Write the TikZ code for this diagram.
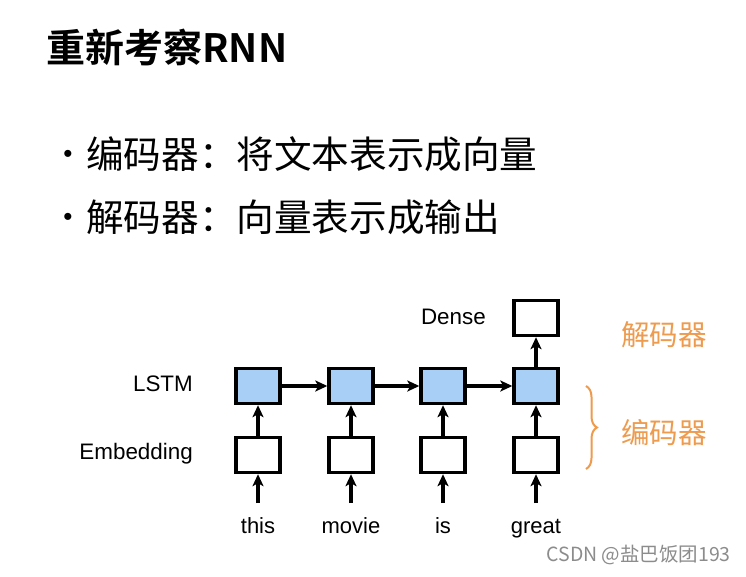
\documentclass[tikz,border=0pt]{standalone}
\usepackage{fontspec}
\setmainfont{Liberation Sans}
\newfontfamily\cjk{Noto Sans CJK SC}
\newfontfamily\cjkbold{Noto Sans CJK SC Bold}
\usetikzlibrary{arrows.meta,decorations.pathreplacing}
\definecolor{lstmblue}{HTML}{A8CFF6}
\definecolor{accent}{HTML}{EE9B4E}
\begin{document}
\begin{tikzpicture}[x=1pt,y=-1pt,
  cell/.style={draw=black,line width=3.4pt,minimum width=44pt,minimum height=35pt,inner sep=0pt},
  lstmcell/.style={cell,fill=lstmblue},
  embcell/.style={cell,fill=white},
  flow/.style={line width=3.2pt,-{Stealth[length=12pt,width=11pt,inset=3pt]}},
  layerlabel/.style={anchor=east,font=\fontsize{22.4}{26}\selectfont,inner sep=0pt},
  word/.style={font=\fontsize{22}{26}\selectfont,inner sep=0pt,anchor=base},
  cjktext/.style={font=\cjk\fontsize{37.6}{44}\selectfont,inner sep=0pt,anchor=west},
  tag/.style={font=\cjk\fontsize{28.5}{34}\selectfont,text=accent,inner sep=0pt}]
\useasboundingbox (0,0) rectangle (746,577);
\fill[white] (0,0) rectangle (746,577);

% heading and bullet points
\node[font=\cjkbold\fontsize{39}{46}\selectfont,anchor=west,inner sep=0pt] (title) at (46,47) {重新考察RNN};
\node[font=\fontsize{26}{30}\selectfont,inner sep=0pt] (b1) at (68,156) {•};
\node[cjktext] (t1) at (86,154) {编码器：将文本表示成向量};
\node[font=\fontsize{26}{30}\selectfont,inner sep=0pt] (b2) at (68,219) {•};
\node[cjktext] (t2) at (86,217) {解码器：向量表示成输出};

% network cells
\foreach \i/\x in {1/258,2/351,3/443,4/536}{
  \node[lstmcell] (l\i) at (\x,386) {};
  \node[embcell] (e\i) at (\x,455) {};
  \coordinate (in\i) at (\x,503);
  \draw[flow] (in\i) -- (e\i.south);
  \draw[flow] (e\i.north) -- (l\i.south);
}
\node[embcell] (dense) at (536,318) {};
\draw[flow] (l4.north) -- (dense.south);
\draw[flow] (l1.east) -- (l2.west);
\draw[flow] (l2.east) -- (l3.west);
\draw[flow] (l3.east) -- (l4.west);

% input words
\node[word] (w1) at (258,533) {this};
\node[word] (w2) at (351,533) {movie};
\node[word] (w3) at (443,533) {is};
\node[word] (w4) at (536,533) {great};

% layer names
\node[layerlabel] (lbl) at (193,384) {LSTM};
\node[layerlabel] (lbe) at (193,454) {Embedding};
\node[layerlabel] (lbd) at (486,317) {Dense};

% decoder / encoder tags
\node[tag] (dec) at (664,335) {解码器};
\node[tag] (enc) at (664,433) {编码器};
\coordinate (bt) at (586,386);
\coordinate (bb) at (586,469);
\draw[accent,line width=2pt,decorate,decoration={brace,amplitude=11pt}] (bt) -- (bb);

% watermark
\node[font=\cjk\fontsize{19.5}{23}\selectfont,text=black!45,anchor=east,inner sep=0pt] (wm) at (731,555) {CSDN @盐巴饭团193};
\end{tikzpicture}
\end{document}
